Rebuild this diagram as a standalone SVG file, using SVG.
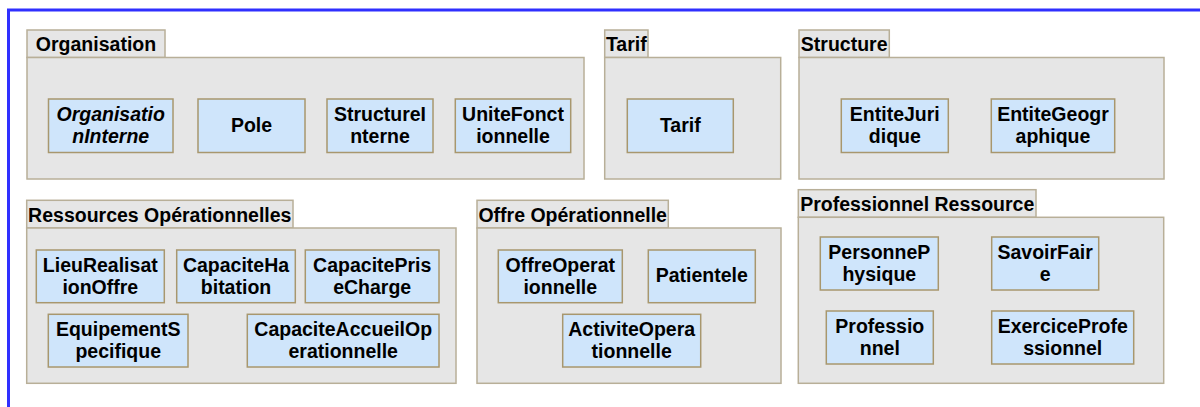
<svg xmlns="http://www.w3.org/2000/svg" width="1200" height="407" viewBox="0 0 1200 407">
<style>
.frame{fill:none;stroke:#3030ff;stroke-width:3}
.pkg{fill:#e6e6e6;stroke:#b8af98;stroke-width:1.5}
.node{fill:#cfe5fb;stroke:#a8976e;stroke-width:1.5}
text{font-family:"Liberation Sans",Arial,sans-serif;font-weight:bold;font-size:19.5px;fill:#000;text-anchor:middle}
.it{font-style:italic}
</style>
<rect width="1200" height="407" fill="#fff"/>
<rect class="frame" x="8.5" y="10" width="1200" height="420"/>

<g id="pkg-organisation">
<rect class="pkg" x="27" y="30" width="138" height="27.5"/>
<rect class="pkg" x="27" y="57.5" width="557" height="121.5"/>
<text x="96" y="51">Organisation</text>
</g>
<g id="pkg-tarif">
<rect class="pkg" x="604.7" y="30" width="43.3" height="27.5"/>
<rect class="pkg" x="604.7" y="57.5" width="176" height="121.5"/>
<text x="626.3" y="51">Tarif</text>
</g>
<g id="pkg-structure">
<rect class="pkg" x="799" y="30" width="90.3" height="27.5"/>
<rect class="pkg" x="799" y="57.5" width="365" height="121.5"/>
<text x="844.2" y="51">Structure</text>
</g>
<g id="pkg-ressources">
<rect class="pkg" x="26.7" y="200.3" width="266.3" height="27.7"/>
<rect class="pkg" x="26.7" y="228" width="429.3" height="155.3"/>
<text x="159.8" y="221.7">Ressources Opérationnelles</text>
</g>
<g id="pkg-offre">
<rect class="pkg" x="477" y="200.3" width="191.3" height="27.7"/>
<rect class="pkg" x="477" y="228" width="304" height="155.3"/>
<text x="572.7" y="221.7">Offre Opérationnelle</text>
</g>
<g id="pkg-professionnel">
<rect class="pkg" x="798.3" y="189.7" width="237.7" height="27.6"/>
<rect class="pkg" x="798.3" y="217.3" width="365.4" height="166"/>
<text x="917.2" y="210.7">Professionnel Ressource</text>
</g>

<g id="n-OrganisationInterne">
<rect class="node" x="48.5" y="99" width="124.5" height="53.5"/>
<text class="it" x="110.7"><tspan x="110.7" y="121">Organisatio</tspan><tspan x="110.7" y="143">nInterne</tspan></text>
</g>
<g id="n-Pole">
<rect class="node" x="198" y="99" width="107" height="53.5"/>
<text x="251.5" y="132">Pole</text>
</g>
<g id="n-StructureInterne">
<rect class="node" x="327" y="99" width="106" height="53.5"/>
<text x="380"><tspan x="380" y="121">StructureI</tspan><tspan x="380" y="143">nterne</tspan></text>
</g>
<g id="n-UniteFonctionnelle">
<rect class="node" x="455.3" y="99" width="115.4" height="53.5"/>
<text x="513"><tspan x="513" y="121">UniteFonct</tspan><tspan x="513" y="143">ionnelle</tspan></text>
</g>
<g id="n-Tarif">
<rect class="node" x="627.3" y="99" width="106" height="53.5"/>
<text x="680.3" y="132">Tarif</text>
</g>
<g id="n-EntiteJuridique">
<rect class="node" x="841.3" y="99" width="107" height="53.5"/>
<text x="894.8"><tspan x="894.8" y="121">EntiteJuri</tspan><tspan x="894.8" y="143">dique</tspan></text>
</g>
<g id="n-EntiteGeographique">
<rect class="node" x="991.3" y="99" width="123.4" height="53.5"/>
<text x="1053"><tspan x="1053" y="121">EntiteGeogr</tspan><tspan x="1053" y="143">aphique</tspan></text>
</g>

<g id="n-LieuRealisationOffre">
<rect class="node" x="36.3" y="250" width="128" height="52.7"/>
<text x="100.3"><tspan x="100.3" y="272.3">LieuRealisat</tspan><tspan x="100.3" y="294.3">ionOffre</tspan></text>
</g>
<g id="n-CapaciteHabitation">
<rect class="node" x="176.7" y="250" width="118.6" height="52.7"/>
<text x="236"><tspan x="236" y="272.3">CapaciteHa</tspan><tspan x="236" y="294.3">bitation</tspan></text>
</g>
<g id="n-CapacitePriseCharge">
<rect class="node" x="305.3" y="250" width="133.7" height="52.7"/>
<text x="372.2"><tspan x="372.2" y="272.3">CapacitePris</tspan><tspan x="372.2" y="294.3">eCharge</tspan></text>
</g>
<g id="n-EquipementSpecifique">
<rect class="node" x="48.3" y="314.3" width="139.7" height="52.7"/>
<text x="118.2"><tspan x="118.2" y="336.3">EquipementS</tspan><tspan x="118.2" y="358.3">pecifique</tspan></text>
</g>
<g id="n-CapaciteAccueilOperationnelle">
<rect class="node" x="247.3" y="314.3" width="191.7" height="52.7"/>
<text x="343.2"><tspan x="343.2" y="336.3">CapaciteAccueilOp</tspan><tspan x="343.2" y="358.3">erationnelle</tspan></text>
</g>

<g id="n-OffreOperationnelle">
<rect class="node" x="498.3" y="250" width="124" height="52.7"/>
<text x="560.3"><tspan x="560.3" y="272.3">OffreOperat</tspan><tspan x="560.3" y="294.3">ionnelle</tspan></text>
</g>
<g id="n-Patientele">
<rect class="node" x="648.3" y="250" width="107" height="52.7"/>
<text x="701.8" y="282">Patientele</text>
</g>
<g id="n-ActiviteOperationnelle">
<rect class="node" x="562.7" y="314.3" width="138" height="52.7"/>
<text x="631.7"><tspan x="631.7" y="336.3">ActiviteOpera</tspan><tspan x="631.7" y="358.3">tionnelle</tspan></text>
</g>

<g id="n-PersonnePhysique">
<rect class="node" x="820.3" y="237" width="118" height="53"/>
<text x="879.3"><tspan x="879.3" y="259">PersonneP</tspan><tspan x="879.3" y="281">hysique</tspan></text>
</g>
<g id="n-SavoirFaire">
<rect class="node" x="991.7" y="237" width="107" height="53"/>
<text x="1045.2"><tspan x="1045.2" y="259">SavoirFair</tspan><tspan x="1045.2" y="281">e</tspan></text>
</g>
<g id="n-Professionnel">
<rect class="node" x="826.3" y="311" width="107" height="53"/>
<text x="879.8"><tspan x="879.8" y="333">Professio</tspan><tspan x="879.8" y="355">nnel</tspan></text>
</g>
<g id="n-ExerciceProfessionnel">
<rect class="node" x="991.7" y="311" width="142" height="53"/>
<text x="1062.7"><tspan x="1062.7" y="333">ExerciceProfe</tspan><tspan x="1062.7" y="355">ssionnel</tspan></text>
</g>

<g id="connectors"></g>
</svg>
